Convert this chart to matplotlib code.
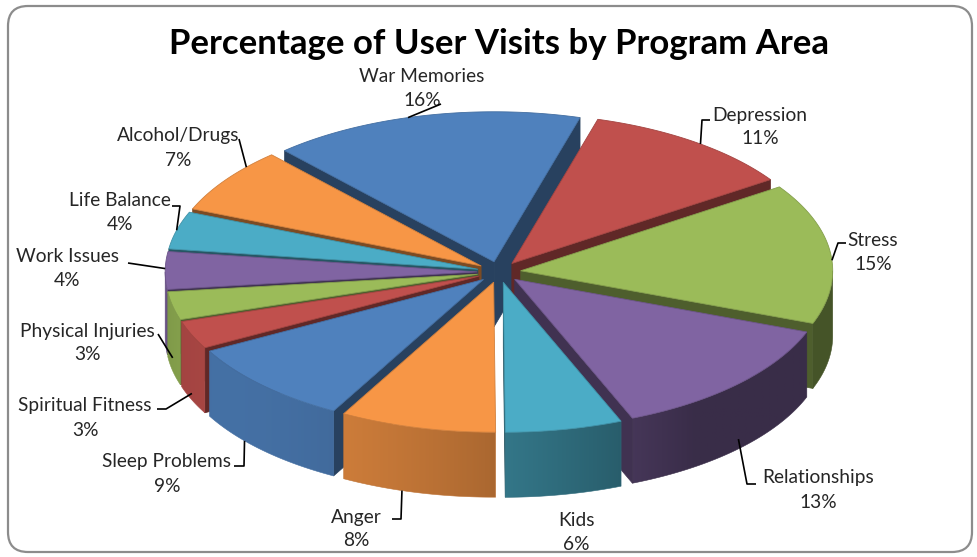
import numpy as np
import matplotlib
matplotlib.use("Agg")
import matplotlib.pyplot as plt
from matplotlib.patches import Polygon, FancyBboxPatch
from matplotlib.colors import to_rgb

# ---------------- data ----------------
categories = ["Depression", "Stress", "Relationships", "Kids", "Anger",
              "Sleep Problems", "Spiritual Fitness", "Physical Injuries",
              "Work Issues", "Life Balance", "Alcohol/Drugs", "War Memories"]
values = [11, 15, 13, 6, 8, 9, 3, 3, 4, 4, 7, 16]
title = "Percentage of User Visits by Program Area"

palette = ["#C0504D", "#9BBB59", "#8064A2", "#4BACC6", "#F79646", "#4F81BD"]
top_colors = [palette[i % 6] for i in range(len(values))]

# ---------------- layout ----------------
W, H = 978, 557
CX, CY = 499, 272          # pie centre (pixels)
RX, RY = 312, 150          # ellipse radii of top face
DEPTH = 65                 # thickness of the pie
EXPLODE = 0.07             # explode distance (fraction of radius)
START = 74.0               # angle of first slice edge (deg, ccw from +x)
LIGHT = -145.0             # direction the light comes from (deg)

# label layout: centre of name line, leader start/elbow, attach (frac within slice, z frac)
label_layout = {
    "War Memories":      dict(xy=(422, 77),  lead=[(441, 104)],             att=(0.55, 0.0)),
    "Depression":        dict(xy=(760, 115), lead=[(710, 120), (702, 120)], att=(0.47, 0.0)),
    "Stress":            dict(xy=(873, 240), lead=[(846, 243), (838, 243)], att=(0.45, 0.0)),
    "Relationships":     dict(xy=(818, 478), lead=[(756, 484), (747, 484)], att=(0.50, 0.85)),
    "Kids":              dict(xy=(576, 520), lead=None,                     att=None),
    "Anger":             dict(xy=(356, 517), lead=[(392, 519), (401, 519)], att=(0.40, 1.0)),
    "Sleep Problems":    dict(xy=(167, 462), lead=[(234, 466), (244, 466)], att=(0.35, 1.0)),
    "Spiritual Fitness": dict(xy=(85, 406),  lead=[(157, 409), (166, 409)], att=(0.5, 0.9)),
    "Physical Injuries": dict(xy=(87, 331),  lead=[(158, 334)],             att=(0.5, 0.8)),
    "Work Issues":       dict(xy=(67, 257),  lead=[(128, 263)],             att=(0.45, 0.0)),
    "Life Balance":      dict(xy=(120, 200), lead=[(172, 206), (180, 206)], att=(0.5, 0.0)),
    "Alcohol/Drugs":     dict(xy=(178, 136), lead=[(239, 139)],             att=(0.26, 0.0)),
}

FONT = ["Lato", "DejaVu Sans"]


def shade(c, f):
    r, g, b = to_rgb(c)
    return (min(1, r * f), min(1, g * f), min(1, b * f))


def wall_factor(normal_deg):
    return 0.45 + 0.42 * np.maximum(0.0, np.cos(np.radians(normal_deg - LIGHT)))


def pt(theta_deg, off, r=1.0, z=0.0):
    t = np.radians(theta_deg)
    x = CX + RX * (off[0] + r * np.cos(t))
    y = CY - RY * (off[1] + r * np.sin(t)) + z
    return x, y


fig = plt.figure(figsize=(W / 100, H / 100), dpi=100)
ax = fig.add_axes([0, 0, 1, 1])
ax.set_xlim(0, W)
ax.set_ylim(H, 0)
ax.axis("off")

# chart border
ax.add_patch(FancyBboxPatch((8, 6), W - 14, H - 11,
                            boxstyle="round,pad=0,rounding_size=20",
                            ec="#8c8c8c", fc="white", lw=1.6, zorder=0))

# slice angles (clockwise from START)
total = float(sum(values))
spans = [v / total * 360.0 for v in values]
slices = []
a = START
for i, s in enumerate(spans):
    t2 = a
    t1 = a - s
    a = t1
    mid = 0.5 * (t1 + t2)
    off = (EXPLODE * np.cos(np.radians(mid)), EXPLODE * np.sin(np.radians(mid)))
    slices.append(dict(i=i, t1=t1, t2=t2, mid=mid, off=off))

# painter's order: back (sin(mid) large) first
order = sorted(slices, key=lambda d: -np.sin(np.radians(d["mid"])))

z = 2
for d in order:
    i, t1, t2, off = d["i"], d["t1"], d["t2"], d["off"]
    col = top_colors[i]
    side_col = shade(col, 0.5)
    c0 = pt(0, off, r=0.0)
    c0b = (c0[0], c0[1] + DEPTH)
    # radial walls
    for t, normal in ((t1, t1 - 90), (t2, t2 + 90)):
        if np.sin(np.radians(normal)) < 0:
            p = pt(t, off)
            poly = [c0, p, (p[0], p[1] + DEPTH), c0b]
            ax.add_patch(Polygon(poly, closed=True, fc=side_col, ec=side_col, lw=0.5, zorder=z))
    # outer wall (front-facing part only) with horizontal light gradient
    ts = np.linspace(t1, t2, 240)
    vis = np.sin(np.radians(ts)) <= 0
    if vis.any():
        idx = np.where(vis)[0]
        runs = np.split(idx, np.where(np.diff(idx) != 1)[0] + 1)
        for run in runs:
            tt = ts[run]
            top = [pt(t, off) for t in tt]
            bot = [(x, y + DEPTH) for x, y in top[::-1]]
            poly = Polygon(top + bot, closed=True, fc="none", ec="none", zorder=z)
            ax.add_patch(poly)
            xs = np.array([p[0] for p in top])
            ys = np.array([p[1] for p in top + bot])
            x0, x1 = xs.min() - 1, xs.max() + 1
            y0, y1 = ys.min() - 1, ys.max() + 1
            gx = np.linspace(x0, x1, 200)
            cosv = np.clip((gx - CX) / RX - off[0], -1, 1)
            gang = -np.degrees(np.arccos(cosv))     # front half angle
            f = wall_factor(gang)
            base = np.array(to_rgb(col))
            img = np.clip(base[None, :] * f[:, None], 0, 1)[None, :, :]
            im = ax.imshow(img, extent=(x0, x1, y1, y0), aspect="auto",
                           interpolation="bilinear", zorder=z)
            im.set_clip_path(poly)
            # thin matching outline to avoid halo
            ax.add_patch(Polygon(top + bot, closed=True, fc="none",
                                 ec=shade(col, float(wall_factor(np.mean(tt)))), lw=0.4, zorder=z))
    # top face
    arc = [pt(t, off) for t in np.linspace(t1, t2, 120)]
    ax.add_patch(Polygon([c0] + arc, closed=True, fc=col, ec=shade(col, 0.85), lw=0.6, zorder=z + 0.5))
    z += 1

ax.set_xlim(0, W)
ax.set_ylim(H, 0)

# labels
for d in slices:
    name = categories[d["i"]]
    lay = label_layout[name]
    tx, ty = lay["xy"]
    ax.text(tx, ty, name, ha="center", va="center", fontsize=13.8,
            family=FONT, color="#262626", zorder=100)
    ax.text(tx, ty + 24, f"{values[d['i']]}%", ha="center", va="center",
            fontsize=13.8, family=FONT, color="#262626", zorder=100)
    if lay["lead"]:
        frac, zf = lay["att"]
        ang = d["t1"] + frac * (d["t2"] - d["t1"])
        end = pt(ang, d["off"], z=zf * DEPTH)
        pts = list(lay["lead"]) + [end]
        xs, ys = zip(*pts)
        ax.plot(xs, ys, color="black", lw=1.2, zorder=101, solid_capstyle="butt")

ax.text(499, 44, title, ha="center", va="center", fontsize=25,
        fontweight="bold", family=FONT, color="black", zorder=100)

fig.savefig("out.png", dpi=100)
